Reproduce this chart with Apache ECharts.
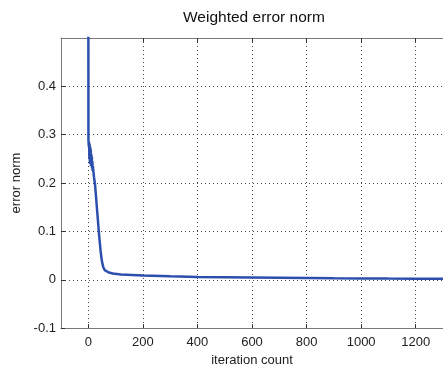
<!DOCTYPE html>
<html>
<head>
<meta charset="utf-8">
<script src="https://cdn.jsdelivr.net/npm/echarts@6/dist/echarts.min.js"></script>
<style>
  html, body { margin: 0; padding: 0; background: #fff; }
  #chart { width: 443px; height: 372px; }
</style>
</head>
<body>
<div id="chart"></div>
<script>
// values
const iterations = [0, 0.5, 2, 3, 4, 5, 6, 7, 8, 9, 10, 11, 12, 13, 14, 15, 16, 17, 18, 21, 25, 30, 35, 40, 45, 50, 55, 60, 66, 75, 90, 120, 200, 300, 400, 500, 600, 700, 800, 900, 1000, 1100, 1200, 1300];
const errorNorm = [0.95, 0.29, 0.275, 0.285, 0.25, 0.28, 0.24, 0.275, 0.245, 0.27, 0.235, 0.26, 0.24, 0.255, 0.23, 0.245, 0.225, 0.235, 0.228, 0.212, 0.195, 0.16, 0.125, 0.09, 0.06, 0.038, 0.026, 0.02, 0.017, 0.015, 0.013, 0.011, 0.009, 0.007, 0.0055, 0.005, 0.0045, 0.004, 0.0035, 0.003, 0.0028, 0.0025, 0.0023, 0.0022];
const xTicks = [0, 200, 400, 600, 800, 1000, 1200];

const chart = echarts.init(document.getElementById('chart'));

const font = 'Liberation Sans, Arial, sans-serif';
const axisGray = '#7a7a7a';
const gridDots = { color: '#444', type: [1, 3], width: 1 };

chart.setOption({
    animation: false,
    title: {
        text: 'Weighted error norm',
        left: 178,
        top: 5,
        textStyle: { fontFamily: font, fontSize: 15.5, fontWeight: 'normal', color: '#111' }
    },
    grid: { left: 61, top: 38, width: 384, height: 295 },
    xAxis: [{
        type: 'value',
        min: -100,
        max: 1300,
        name: 'iteration count',
        nameLocation: 'middle',
        nameGap: 25,
        nameTextStyle: { fontFamily: font, fontSize: 13, color: '#222' },
        axisLine: { show: true, onZero: false, lineStyle: { color: axisGray, width: 1 } },
        axisTick: { show: true, inside: true, length: 4, customValues: xTicks, lineStyle: { color: '#333' } },
        axisLabel: {
            customValues: xTicks, fontFamily: font, fontSize: 13, color: '#222', margin: 8,
            formatter: v => String(v)
        },
        splitLine: { show: true, lineStyle: gridDots }
    }, {
        type: 'value',
        position: 'top',
        min: -100,
        max: 1300,
        axisLine: { show: true, onZero: false, lineStyle: { color: axisGray, width: 1 } },
        axisTick: { show: true, inside: true, length: 4, customValues: xTicks, lineStyle: { color: '#333' } },
        axisLabel: { show: false },
        splitLine: { show: false }
    }],
    yAxis: {
        type: 'value',
        min: -0.1,
        max: 0.5,
        interval: 0.1,
        name: 'error norm',
        nameLocation: 'middle',
        nameGap: 31,
        nameTextStyle: { fontFamily: font, fontSize: 13, color: '#222' },
        axisLine: { show: true, onZero: false, lineStyle: { color: axisGray, width: 1 } },
        axisTick: { show: true, inside: true, length: 4, lineStyle: { color: '#333' } },
        axisLabel: {
            fontFamily: font, fontSize: 13, color: '#222', margin: 5,
            showMaxLabel: false,
            formatter: v => (Math.abs(v) < 1e-9 ? '0' : v.toFixed(1))
        },
        splitLine: { show: true, lineStyle: gridDots }
    },
    series: [{
        type: 'line',
        data: iterations.map((x, i) => [x, errorNorm[i]]),
        symbol: 'none',
        clip: true,
        lineStyle: { color: '#2c4fae', width: 2.5 }
    }]
});
</script>
</body>
</html>
